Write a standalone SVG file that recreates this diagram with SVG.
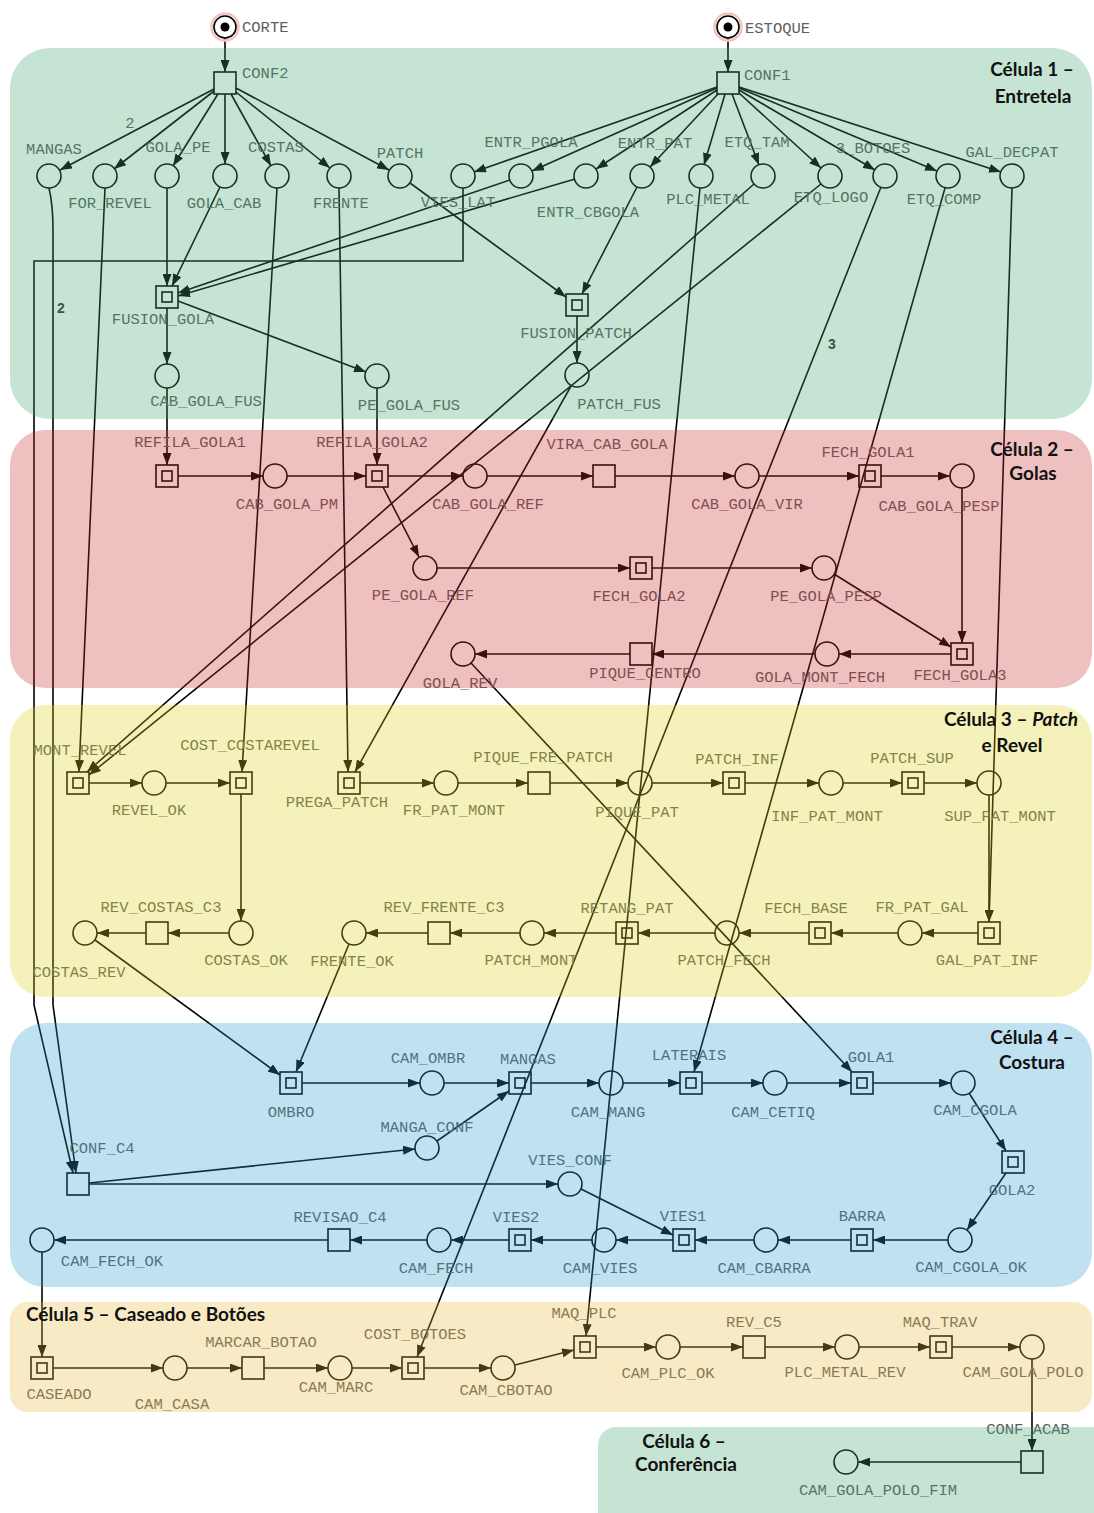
<svg xmlns="http://www.w3.org/2000/svg" width="1094" height="1513" viewBox="0 0 1094 1513">
<style>
.p{fill:none;stroke:#000;stroke-width:1.6}
.t{fill:none;stroke:#000;stroke-width:1.6}
.c{fill:none;stroke:#000;stroke-width:1.6;marker-end:url(#ah)}
.l{font-family:"Liberation Mono",monospace;font-size:15.5px;fill:#5e5e5e;text-anchor:middle}
.ls{text-anchor:start}
.w{font-family:"Liberation Sans",sans-serif;font-size:14px;font-weight:bold;fill:#333;text-anchor:middle}
.ttl{font-family:Lato,"Liberation Sans",sans-serif;font-size:19px;font-weight:bold;fill:#111;text-anchor:middle}
.pan{opacity:0.3}
</style>
<defs>
<marker id="ah" viewBox="0 0 12 9" refX="12" refY="4.5" markerWidth="12" markerHeight="9" markerUnits="userSpaceOnUse" orient="auto"><path d="M0,0 L12,4.5 L0,9 z" fill="#000"/></marker>
</defs>
<rect x="0" y="0" width="1094" height="1513" fill="#fff"/>

<g id="connectors">
<path class="c" d="M225,38 L225,72"/>
<path class="c" d="M728,38 L728,72"/>
<path class="c" d="M214,89 L60,170"/>
<path class="c" d="M214,91 L114,169"/>
<path class="c" d="M218,94 L173,166"/>
<path class="c" d="M225,94 L225,164"/>
<path class="c" d="M231,94 L271,166"/>
<path class="c" d="M236,92 L330,168"/>
<path class="c" d="M236,88 L389,170"/>
<path class="c" d="M717,87 L474,172"/>
<path class="c" d="M717,88 L532,171"/>
<path class="c" d="M717,90 L596,169"/>
<path class="c" d="M718,94 L650,167"/>
<path class="c" d="M725,94 L704,165"/>
<path class="c" d="M732,94 L759,165"/>
<path class="c" d="M739,93 L821,168"/>
<path class="c" d="M739,90 L875,170"/>
<path class="c" d="M739,88 L937,171"/>
<path class="c" d="M739,87 L1001,172"/>
<path class="c" d="M167,188 L167,286"/>
<path class="c" d="M220,187 L172,286"/>
<path class="c" d="M510,180 L178,293"/>
<path class="c" d="M575,179 L178,296"/>
<path class="c" d="M463,188 L463,261 L34,261 L34,1005 L73,1173"/>
<path class="c" d="M49,188 Q53,205 53,230 L53,1005 L76,1173"/>
<path class="c" d="M105,188 L79,772"/>
<path class="c" d="M277,188 L242,772"/>
<path class="c" d="M339,188 L348,772"/>
<path class="c" d="M410,183 L566,297"/>
<path class="c" d="M637,187 L582,294"/>
<path class="c" d="M167,308 L167,364"/>
<path class="c" d="M178,301 L366,372"/>
<path class="c" d="M577,316 L577,363"/>
<path class="c" d="M167,388 L167,465"/>
<path class="c" d="M377,388 L377,465"/>
<path class="c" d="M571,386 L355,772"/>
<path class="c" d="M700,188 L586,1336"/>
<path class="c" d="M754,184 L87,772"/>
<path class="c" d="M821,184 L89,775"/>
<path class="c" d="M881,187 L417,1357"/>
<path class="c" d="M945,188 L694,1072"/>
<path class="c" d="M1012,188 L989,922"/>
<path class="c" d="M178,476 L263,476"/>
<path class="c" d="M287,476 L366,476"/>
<path class="c" d="M388,476 L463,476"/>
<path class="c" d="M487,476 L593,476"/>
<path class="c" d="M615,476 L735,476"/>
<path class="c" d="M759,476 L859,476"/>
<path class="c" d="M881,476 L950,476"/>
<path class="c" d="M962,488 L962,643"/>
<path class="c" d="M383,487 L419,557"/>
<path class="c" d="M437,568 L630,568"/>
<path class="c" d="M652,568 L812,568"/>
<path class="c" d="M834,574 L951,647"/>
<path class="c" d="M951,654 L839,654"/>
<path class="c" d="M815,654 L652,654"/>
<path class="c" d="M630,654 L475,654"/>
<path class="c" d="M471,663 L852,1072"/>
<path class="c" d="M89,783 L142,783"/>
<path class="c" d="M166,783 L230,783"/>
<path class="c" d="M241,794 L241,921"/>
<path class="c" d="M229,933 L168,933"/>
<path class="c" d="M146,933 L97,933"/>
<path class="c" d="M95,940 L280,1075"/>
<path class="c" d="M360,783 L434,783"/>
<path class="c" d="M458,783 L528,783"/>
<path class="c" d="M550,783 L628,783"/>
<path class="c" d="M652,783 L723,783"/>
<path class="c" d="M745,783 L819,783"/>
<path class="c" d="M843,783 L902,783"/>
<path class="c" d="M924,783 L977,783"/>
<path class="c" d="M989,795 L989,922"/>
<path class="c" d="M978,933 L922,933"/>
<path class="c" d="M898,933 L831,933"/>
<path class="c" d="M809,933 L739,933"/>
<path class="c" d="M715,933 L638,933"/>
<path class="c" d="M616,933 L544,933"/>
<path class="c" d="M520,933 L450,933"/>
<path class="c" d="M428,933 L366,933"/>
<path class="c" d="M349,944 L296,1072"/>
<path class="c" d="M302,1083 L420,1083"/>
<path class="c" d="M444,1083 L509,1083"/>
<path class="c" d="M531,1083 L599,1083"/>
<path class="c" d="M623,1083 L680,1083"/>
<path class="c" d="M702,1083 L763,1083"/>
<path class="c" d="M787,1083 L851,1083"/>
<path class="c" d="M873,1083 L951,1083"/>
<path class="c" d="M969,1093 L1006,1151"/>
<path class="c" d="M1006,1173 L967,1230"/>
<path class="c" d="M948,1240 L873,1240"/>
<path class="c" d="M851,1240 L778,1240"/>
<path class="c" d="M754,1240 L695,1240"/>
<path class="c" d="M673,1240 L616,1240"/>
<path class="c" d="M592,1240 L531,1240"/>
<path class="c" d="M509,1240 L451,1240"/>
<path class="c" d="M427,1240 L350,1240"/>
<path class="c" d="M328,1240 L54,1240"/>
<path class="c" d="M89,1183 L415,1149"/>
<path class="c" d="M89,1184 L558,1184"/>
<path class="c" d="M437,1141 L509,1091"/>
<path class="c" d="M581,1189 L673,1235"/>
<path class="c" d="M42,1252 L42,1357"/>
<path class="c" d="M53,1368 L163,1368"/>
<path class="c" d="M187,1368 L242,1368"/>
<path class="c" d="M264,1368 L328,1368"/>
<path class="c" d="M352,1368 L402,1368"/>
<path class="c" d="M424,1368 L491,1368"/>
<path class="c" d="M515,1365 L574,1350"/>
<path class="c" d="M596,1347 L656,1347"/>
<path class="c" d="M680,1347 L743,1347"/>
<path class="c" d="M765,1347 L835,1347"/>
<path class="c" d="M859,1347 L930,1347"/>
<path class="c" d="M952,1347 L1020,1347"/>
<path class="c" d="M1032,1359 L1032,1451"/>
<path class="c" d="M1021,1462 L858,1462"/>
<text class="l" x="130" y="128">2</text>
<text class="w" x="61" y="313">2</text>
<text class="w" x="832" y="349">3</text>
</g>

<g id="p_CORTE"><circle cx="225" cy="27" r="13.5" fill="none" stroke="#f2c6bd" stroke-width="2.5"/><circle class="p" cx="225" cy="27" r="11"/><circle cx="225" cy="27" r="4.5" fill="#000"/><text class="l ls" x="242" y="32">CORTE</text></g>
<g id="p_ESTOQUE"><circle cx="728" cy="27" r="13.5" fill="none" stroke="#f2c6bd" stroke-width="2.5"/><circle class="p" cx="728" cy="27" r="11"/><circle cx="728" cy="27" r="4.5" fill="#000"/><text class="l ls" x="745" y="33">ESTOQUE</text></g>
<g id="t_CONF2"><rect class="t" x="214" y="72" width="22" height="22"/><text class="l ls" x="242" y="78">CONF2</text></g>
<g id="t_CONF1"><rect class="t" x="717" y="72" width="22" height="22"/><text class="l ls" x="744" y="80">CONF1</text></g>
<g id="p_MANGAS"><circle class="p" cx="49" cy="176" r="12"/><text class="l" x="54" y="154">MANGAS</text></g>
<g id="p_FOR_REVEL"><circle class="p" cx="105" cy="176" r="12"/><text class="l" x="110" y="208">FOR_REVEL</text></g>
<g id="p_GOLA_PE"><circle class="p" cx="167" cy="176" r="12"/><text class="l" x="178" y="152">GOLA_PE</text></g>
<g id="p_GOLA_CAB"><circle class="p" cx="225" cy="176" r="12"/><text class="l" x="224" y="208">GOLA_CAB</text></g>
<g id="p_COSTAS"><circle class="p" cx="277" cy="176" r="12"/><text class="l" x="276" y="152">COSTAS</text></g>
<g id="p_FRENTE"><circle class="p" cx="339" cy="176" r="12"/><text class="l" x="341" y="208">FRENTE</text></g>
<g id="p_PATCH"><circle class="p" cx="400" cy="176" r="12"/><text class="l" x="400" y="158">PATCH</text></g>
<g id="p_VIES_LAT"><circle class="p" cx="463" cy="176" r="12"/><text class="l" x="458" y="207">VIES_LAT</text></g>
<g id="p_ENTR_PGOLA"><circle class="p" cx="521" cy="176" r="12"/><text class="l" x="531" y="147">ENTR_PGOLA</text></g>
<g id="p_ENTR_CBGOLA"><circle class="p" cx="586" cy="176" r="12"/><text class="l" x="588" y="217">ENTR_CBGOLA</text></g>
<g id="p_ENTR_PAT"><circle class="p" cx="642" cy="176" r="12"/><text class="l" x="655" y="148">ENTR_PAT</text></g>
<g id="p_PLC_METAL"><circle class="p" cx="701" cy="176" r="12"/><text class="l" x="708" y="204">PLC_METAL</text></g>
<g id="p_ETQ_TAM"><circle class="p" cx="763" cy="176" r="12"/><text class="l" x="757" y="147">ETQ_TAM</text></g>
<g id="p_ETQ_LOGO"><circle class="p" cx="830" cy="176" r="12"/><text class="l" x="831" y="202">ETQ_LOGO</text></g>
<g id="p_3_BOTOES"><circle class="p" cx="885" cy="176" r="12"/><text class="l" x="873" y="153">3_BOTOES</text></g>
<g id="p_ETQ_COMP"><circle class="p" cx="948" cy="176" r="12"/><text class="l" x="944" y="204">ETQ_COMP</text></g>
<g id="p_GAL_DECPAT"><circle class="p" cx="1012" cy="176" r="12"/><text class="l" x="1012" y="157">GAL_DECPAT</text></g>
<g id="t_FUSION_GOLA"><rect class="t" x="156" y="286" width="22" height="22"/><rect class="t" x="162" y="292" width="10" height="10"/><text class="l" x="163" y="324">FUSION_GOLA</text></g>
<g id="t_FUSION_PATCH"><rect class="t" x="566" y="294" width="22" height="22"/><rect class="t" x="572" y="300" width="10" height="10"/><text class="l" x="576" y="338">FUSION_PATCH</text></g>
<g id="p_CAB_GOLA_FUS"><circle class="p" cx="167" cy="376" r="12"/><text class="l" x="206" y="406">CAB_GOLA_FUS</text></g>
<g id="p_PE_GOLA_FUS"><circle class="p" cx="377" cy="376" r="12"/><text class="l" x="409" y="410">PE_GOLA_FUS</text></g>
<g id="p_PATCH_FUS"><circle class="p" cx="577" cy="375" r="12"/><text class="l" x="619" y="409">PATCH_FUS</text></g>

<g id="t_REFILA_GOLA1"><rect class="t" x="156" y="465" width="22" height="22"/><rect class="t" x="162" y="471" width="10" height="10"/><text class="l" x="190" y="447">REFILA_GOLA1</text></g>
<g id="p_CAB_GOLA_PM"><circle class="p" cx="275" cy="476" r="12"/><text class="l" x="287" y="509">CAB_GOLA_PM</text></g>
<g id="t_REFILA_GOLA2"><rect class="t" x="366" y="465" width="22" height="22"/><rect class="t" x="372" y="471" width="10" height="10"/><text class="l" x="372" y="447">REFILA_GOLA2</text></g>
<g id="p_CAB_GOLA_REF"><circle class="p" cx="475" cy="476" r="12"/><text class="l" x="488" y="509">CAB_GOLA_REF</text></g>
<g id="t_VIRA_CAB_GOLA"><rect class="t" x="593" y="465" width="22" height="22"/><text class="l" x="607" y="449">VIRA_CAB_GOLA</text></g>
<g id="p_CAB_GOLA_VIR"><circle class="p" cx="747" cy="476" r="12"/><text class="l" x="747" y="509">CAB_GOLA_VIR</text></g>
<g id="t_FECH_GOLA1"><rect class="t" x="859" y="465" width="22" height="22"/><rect class="t" x="865" y="471" width="10" height="10"/><text class="l" x="868" y="457">FECH_GOLA1</text></g>
<g id="p_CAB_GOLA_PESP"><circle class="p" cx="962" cy="476" r="12"/><text class="l" x="939" y="511">CAB_GOLA_PESP</text></g>
<g id="p_PE_GOLA_REF"><circle class="p" cx="425" cy="568" r="12"/><text class="l" x="423" y="600">PE_GOLA_REF</text></g>
<g id="t_FECH_GOLA2"><rect class="t" x="630" y="557" width="22" height="22"/><rect class="t" x="636" y="563" width="10" height="10"/><text class="l" x="639" y="601">FECH_GOLA2</text></g>
<g id="p_PE_GOLA_PESP"><circle class="p" cx="824" cy="568" r="12"/><text class="l" x="826" y="601">PE_GOLA_PESP</text></g>
<g id="p_GOLA_REV"><circle class="p" cx="463" cy="654" r="12"/><text class="l" x="460" y="688">GOLA_REV</text></g>
<g id="t_PIQUE_CENTRO"><rect class="t" x="630" y="643" width="22" height="22"/><text class="l" x="645" y="678">PIQUE_CENTRO</text></g>
<g id="p_GOLA_MONT_FECH"><circle class="p" cx="827" cy="654" r="12"/><text class="l" x="820" y="682">GOLA_MONT_FECH</text></g>
<g id="t_FECH_GOLA3"><rect class="t" x="951" y="643" width="22" height="22"/><rect class="t" x="957" y="649" width="10" height="10"/><text class="l" x="960" y="680">FECH_GOLA3</text></g>

<g id="t_MONT_REVEL"><rect class="t" x="67" y="772" width="22" height="22"/><rect class="t" x="73" y="778" width="10" height="10"/><text class="l" x="80" y="755">MONT_REVEL</text></g>
<g id="p_REVEL_OK"><circle class="p" cx="154" cy="783" r="12"/><text class="l" x="149" y="815">REVEL_OK</text></g>
<g id="t_COST_COSTAREVEL"><rect class="t" x="230" y="772" width="22" height="22"/><rect class="t" x="236" y="778" width="10" height="10"/><text class="l" x="250" y="750">COST_COSTAREVEL</text></g>
<g id="t_PREGA_PATCH"><rect class="t" x="338" y="772" width="22" height="22"/><rect class="t" x="344" y="778" width="10" height="10"/><text class="l" x="337" y="807">PREGA_PATCH</text></g>
<g id="p_FR_PAT_MONT"><circle class="p" cx="446" cy="783" r="12"/><text class="l" x="454" y="815">FR_PAT_MONT</text></g>
<g id="t_PIQUE_FRE_PATCH"><rect class="t" x="528" y="772" width="22" height="22"/><text class="l" x="543" y="762">PIQUE_FRE_PATCH</text></g>
<g id="p_PIQUE_PAT"><circle class="p" cx="640" cy="783" r="12"/><text class="l" x="637" y="817">PIQUE_PAT</text></g>
<g id="t_PATCH_INF"><rect class="t" x="723" y="772" width="22" height="22"/><rect class="t" x="729" y="778" width="10" height="10"/><text class="l" x="737" y="764">PATCH_INF</text></g>
<g id="p_INF_PAT_MONT"><circle class="p" cx="831" cy="783" r="12"/><text class="l" x="827" y="821">INF_PAT_MONT</text></g>
<g id="t_PATCH_SUP"><rect class="t" x="902" y="772" width="22" height="22"/><rect class="t" x="908" y="778" width="10" height="10"/><text class="l" x="912" y="763">PATCH_SUP</text></g>
<g id="p_SUP_PAT_MONT"><circle class="p" cx="989" cy="783" r="12"/><text class="l" x="1000" y="821">SUP_PAT_MONT</text></g>
<g id="p_COSTAS_REV"><circle class="p" cx="85" cy="933" r="12"/><text class="l" x="79" y="977">COSTAS_REV</text></g>
<g id="t_REV_COSTAS_C3"><rect class="t" x="146" y="922" width="22" height="22"/><text class="l" x="161" y="912">REV_COSTAS_C3</text></g>
<g id="p_COSTAS_OK"><circle class="p" cx="241" cy="933" r="12"/><text class="l" x="246" y="965">COSTAS_OK</text></g>
<g id="p_FRENTE_OK"><circle class="p" cx="354" cy="933" r="12"/><text class="l" x="352" y="966">FRENTE_OK</text></g>
<g id="t_REV_FRENTE_C3"><rect class="t" x="428" y="922" width="22" height="22"/><text class="l" x="444" y="912">REV_FRENTE_C3</text></g>
<g id="p_PATCH_MONT"><circle class="p" cx="532" cy="933" r="12"/><text class="l" x="531" y="965">PATCH_MONT</text></g>
<g id="t_RETANG_PAT"><rect class="t" x="616" y="922" width="22" height="22"/><rect class="t" x="622" y="928" width="10" height="10"/><text class="l" x="627" y="913">RETANG_PAT</text></g>
<g id="p_PATCH_FECH"><circle class="p" cx="727" cy="933" r="12"/><text class="l" x="724" y="965">PATCH_FECH</text></g>
<g id="t_FECH_BASE"><rect class="t" x="809" y="922" width="22" height="22"/><rect class="t" x="815" y="928" width="10" height="10"/><text class="l" x="806" y="913">FECH_BASE</text></g>
<g id="p_FR_PAT_GAL"><circle class="p" cx="910" cy="933" r="12"/><text class="l" x="922" y="912">FR_PAT_GAL</text></g>
<g id="t_GAL_PAT_INF"><rect class="t" x="978" y="922" width="22" height="22"/><rect class="t" x="984" y="928" width="10" height="10"/><text class="l" x="987" y="965">GAL_PAT_INF</text></g>

<g id="t_OMBRO"><rect class="t" x="280" y="1072" width="22" height="22"/><rect class="t" x="286" y="1078" width="10" height="10"/><text class="l" x="291" y="1117">OMBRO</text></g>
<g id="p_CAM_OMBR"><circle class="p" cx="432" cy="1083" r="12"/><text class="l" x="428" y="1063">CAM_OMBR</text></g>
<g id="t_MANGAS"><rect class="t" x="509" y="1072" width="22" height="22"/><rect class="t" x="515" y="1078" width="10" height="10"/><text class="l" x="528" y="1064">MANGAS</text></g>
<g id="p_CAM_MANG"><circle class="p" cx="611" cy="1083" r="12"/><text class="l" x="608" y="1117">CAM_MANG</text></g>
<g id="t_LATERAIS"><rect class="t" x="680" y="1072" width="22" height="22"/><rect class="t" x="686" y="1078" width="10" height="10"/><text class="l" x="689" y="1060">LATERAIS</text></g>
<g id="p_CAM_CETIQ"><circle class="p" cx="775" cy="1083" r="12"/><text class="l" x="773" y="1117">CAM_CETIQ</text></g>
<g id="t_GOLA1"><rect class="t" x="851" y="1072" width="22" height="22"/><rect class="t" x="857" y="1078" width="10" height="10"/><text class="l" x="871" y="1062">GOLA1</text></g>
<g id="p_CAM_CGOLA"><circle class="p" cx="963" cy="1083" r="12"/><text class="l" x="975" y="1115">CAM_CGOLA</text></g>
<g id="t_GOLA2"><rect class="t" x="1002" y="1151" width="22" height="22"/><rect class="t" x="1008" y="1157" width="10" height="10"/><text class="l" x="1012" y="1195">GOLA2</text></g>
<g id="p_CAM_CGOLA_OK"><circle class="p" cx="960" cy="1240" r="12"/><text class="l" x="971" y="1272">CAM_CGOLA_OK</text></g>
<g id="t_BARRA"><rect class="t" x="851" y="1229" width="22" height="22"/><rect class="t" x="857" y="1235" width="10" height="10"/><text class="l" x="862" y="1221">BARRA</text></g>
<g id="p_CAM_CBARRA"><circle class="p" cx="766" cy="1240" r="12"/><text class="l" x="764" y="1273">CAM_CBARRA</text></g>
<g id="t_VIES1"><rect class="t" x="673" y="1229" width="22" height="22"/><rect class="t" x="679" y="1235" width="10" height="10"/><text class="l" x="683" y="1221">VIES1</text></g>
<g id="p_CAM_VIES"><circle class="p" cx="604" cy="1240" r="12"/><text class="l" x="600" y="1273">CAM_VIES</text></g>
<g id="t_VIES2"><rect class="t" x="509" y="1229" width="22" height="22"/><rect class="t" x="515" y="1235" width="10" height="10"/><text class="l" x="516" y="1222">VIES2</text></g>
<g id="p_CAM_FECH"><circle class="p" cx="439" cy="1240" r="12"/><text class="l" x="436" y="1273">CAM_FECH</text></g>
<g id="t_REVISAO_C4"><rect class="t" x="328" y="1229" width="22" height="22"/><text class="l" x="340" y="1222">REVISAO_C4</text></g>
<g id="p_CAM_FECH_OK"><circle class="p" cx="42" cy="1240" r="12"/><text class="l" x="112" y="1266">CAM_FECH_OK</text></g>
<g id="p_MANGA_CONF"><circle class="p" cx="427" cy="1148" r="12"/><text class="l" x="427" y="1132">MANGA_CONF</text></g>
<g id="p_VIES_CONF"><circle class="p" cx="570" cy="1184" r="12"/><text class="l" x="570" y="1165">VIES_CONF</text></g>
<g id="t_CONF_C4"><rect class="t" x="67" y="1173" width="22" height="22"/><text class="l" x="102" y="1153">CONF_C4</text></g>

<g id="t_CASEADO"><rect class="t" x="31" y="1357" width="22" height="22"/><rect class="t" x="37" y="1363" width="10" height="10"/><text class="l" x="59" y="1399">CASEADO</text></g>
<g id="p_CAM_CASA"><circle class="p" cx="175" cy="1368" r="12"/><text class="l" x="172" y="1409">CAM_CASA</text></g>
<g id="t_MARCAR_BOTAO"><rect class="t" x="242" y="1357" width="22" height="22"/><text class="l" x="261" y="1347">MARCAR_BOTAO</text></g>
<g id="p_CAM_MARC"><circle class="p" cx="340" cy="1368" r="12"/><text class="l" x="336" y="1392">CAM_MARC</text></g>
<g id="t_COST_BOTOES"><rect class="t" x="402" y="1357" width="22" height="22"/><rect class="t" x="408" y="1363" width="10" height="10"/><text class="l" x="415" y="1339">COST_BOTOES</text></g>
<g id="p_CAM_CBOTAO"><circle class="p" cx="503" cy="1368" r="12"/><text class="l" x="506" y="1395">CAM_CBOTAO</text></g>
<g id="t_MAQ_PLC"><rect class="t" x="574" y="1336" width="22" height="22"/><rect class="t" x="580" y="1342" width="10" height="10"/><text class="l" x="584" y="1318">MAQ_PLC</text></g>
<g id="p_CAM_PLC_OK"><circle class="p" cx="668" cy="1347" r="12"/><text class="l" x="668" y="1378">CAM_PLC_OK</text></g>
<g id="t_REV_C5"><rect class="t" x="743" y="1336" width="22" height="22"/><text class="l" x="754" y="1327">REV_C5</text></g>
<g id="p_PLC_METAL_REV"><circle class="p" cx="847" cy="1347" r="12"/><text class="l" x="845" y="1377">PLC_METAL_REV</text></g>
<g id="t_MAQ_TRAV"><rect class="t" x="930" y="1336" width="22" height="22"/><rect class="t" x="936" y="1342" width="10" height="10"/><text class="l" x="940" y="1327">MAQ_TRAV</text></g>
<g id="p_CAM_GOLA_POLO"><circle class="p" cx="1032" cy="1347" r="12"/><text class="l" x="1023" y="1377">CAM_GOLA_POLO</text></g>
<g id="t_CONF_ACAB"><rect class="t" x="1021" y="1451" width="22" height="22"/><text class="l" x="1028" y="1434">CONF_ACAB</text></g>
<g id="p_CAM_GOLA_POLO_FIM"><circle class="p" cx="846" cy="1462" r="12"/><text class="l" x="878" y="1495">CAM_GOLA_POLO_FIM</text></g>

<g id="panels">
<rect class="pan" x="10" y="48" width="1082" height="371" rx="40" fill="rgb(62,165,112)"/>
<rect class="pan" x="10" y="430" width="1082" height="258" rx="35" fill="rgb(202,48,48)"/>
<rect class="pan" x="10" y="705" width="1082" height="292" rx="35" fill="rgb(218,212,25)"/>
<rect class="pan" x="10" y="1023" width="1082" height="264" rx="35" fill="rgb(45,158,205)"/>
<rect class="pan" x="10" y="1302" width="1082" height="110" rx="18" fill="rgb(232,185,58)"/>
<rect class="pan" x="598" y="1427" width="520" height="110" rx="18" fill="rgb(62,165,112)"/>
</g>

<g id="titles">
<text class="ttl" x="1032" y="76">Célula 1 –</text>
<text class="ttl" x="1033" y="103">Entretela</text>
<text class="ttl" x="1032" y="456">Célula 2 –</text>
<text class="ttl" x="1033" y="480">Golas</text>
<text class="ttl" x="1011" y="726">Célula 3 – <tspan font-style="italic">Patch</tspan></text>
<text class="ttl" x="1012" y="752">e Revel</text>
<text class="ttl" x="1032" y="1044">Célula 4 –</text>
<text class="ttl" x="1032" y="1069">Costura</text>
<text class="ttl" x="26" y="1321" style="text-anchor:start">Célula 5 – Caseado e Botões</text>
<text class="ttl" x="684" y="1448">Célula 6 –</text>
<text class="ttl" x="686" y="1471">Conferência</text>
</g>
</svg>
